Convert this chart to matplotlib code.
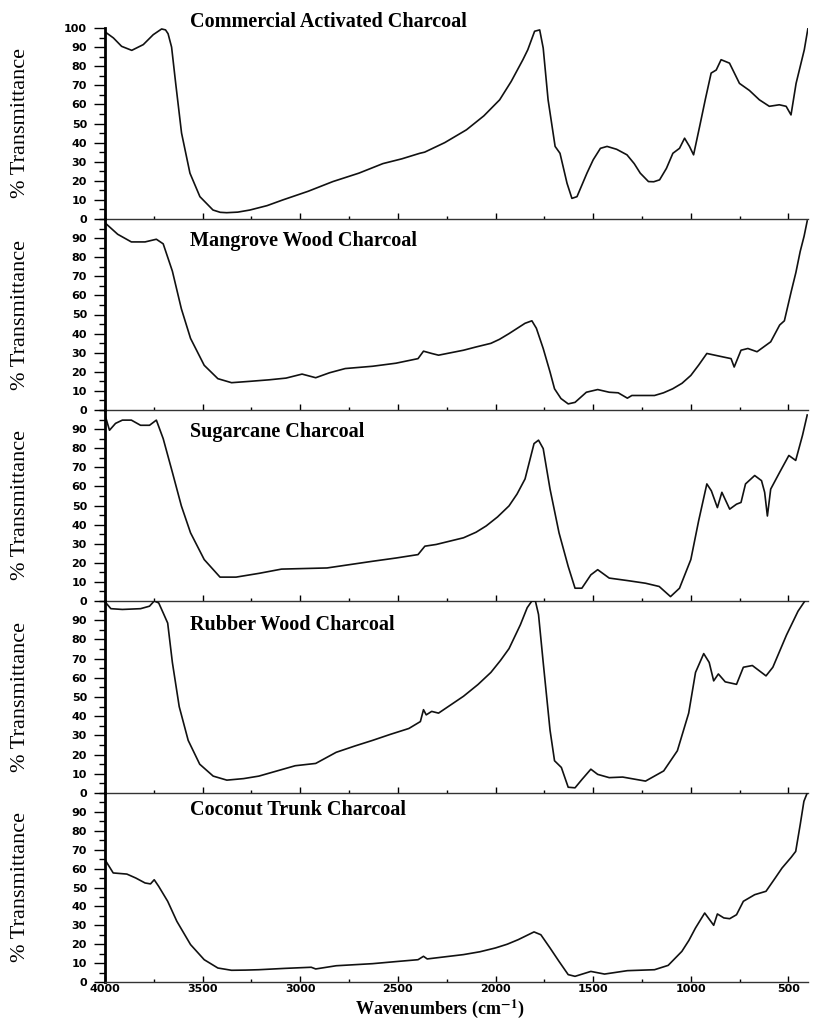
import matplotlib
matplotlib.use("Agg")
import matplotlib.pyplot as plt
from matplotlib.ticker import MultipleLocator

plt.rcParams["mathtext.fontset"] = "stix"

# ---- data (wavenumber cm-1, % transmittance) ----
commercial_wn = [4000, 3957, 3915, 3863, 3804, 3753, 3710, 3690, 3677, 3659, 3638, 3608, 3565, 3514,
                 3447, 3410, 3377, 3320, 3258, 3170, 3089, 2960, 2833, 2700, 2577, 2480, 2388, 2363,
                 2260, 2149, 2060, 1979, 1920, 1860, 1835, 1800, 1774,
                 1756, 1731, 1695, 1670, 1634, 1609, 1583, 1532, 1500, 1463, 1429, 1380, 1327, 1290,
                 1259, 1217, 1190, 1160, 1125,
                 1092, 1058, 1032, 1007, 986, 955, 925, 896, 870, 845, 802, 751, 700, 649, 598, 547, 512,
                 487, 461, 419, 400]
commercial_t = [98, 94.8, 90.4, 88.3, 91.3, 96.5, 99.5, 99, 97, 90, 71, 45, 24, 11.7,
                4.7, 3.5, 3.3, 3.6, 4.7, 7, 10, 14.5, 19.6, 24, 29, 31.5, 34.4, 35,
                40, 46.7, 54, 62.4, 72, 83.4, 88.6, 98.3, 99,
                89.5, 62.4, 38, 34.4, 18.7, 10.8, 11.7, 24, 31, 37, 38, 36.5, 33.6, 29,
                24, 19.6, 19.5, 20.5, 26.5,
                34.4, 37, 42.3, 38, 33.6, 48.4, 63, 76.4, 78, 83.4, 81.6, 71, 67.3, 62.4, 59, 59.8, 59,
                54.5, 71, 88.6, 100]

mangrove_wn = [4000, 3935, 3865, 3795, 3737, 3702, 3655, 3609, 3562, 3492, 3422, 3352, 3259, 3160, 3073,
               2991, 2921, 2850, 2770, 2630, 2510, 2397, 2369, 2327, 2292, 2164, 2100, 2024, 1980, 1931,
               1849, 1814, 1791,
               1756, 1721, 1698, 1665, 1628, 1593, 1535, 1477, 1418, 1372, 1325, 1302, 1186, 1140, 1093,
               1045, 1000, 960,
               918, 836, 794, 778, 743, 708, 661, 591, 545, 521, 486, 462, 440, 420, 404]
mangrove_t = [98, 92, 88, 88, 89.4, 87, 72.7, 53, 37.5, 23.4, 16.4, 14.3, 15, 15.8, 16.7,
              18.8, 16.9, 19.5, 21.7, 22.9, 24.5, 26.9, 30.8, 29.6, 28.7, 31.3, 33, 34.9, 37, 40,
              45.4, 46.7, 42.8,
              32.2, 19.9, 11.1, 6, 3.2, 4, 9.3, 10.7, 9.3, 9, 6.2, 7.6, 7.6, 9, 11.1,
              14, 18.1, 23.5,
              29.6, 27.8, 26.9, 22.5, 31.3, 32.2, 30.5, 35.7, 44.5, 46.7, 62, 72, 83, 91, 99]

sugarcane_wn = [4000, 3977, 3946, 3911, 3865, 3818, 3772, 3737, 3702, 3655, 3609, 3562, 3492, 3411,
                3329, 3210, 3096, 2980, 2863, 2750, 2630, 2510, 2397, 2362, 2304, 2164, 2100, 2048,
                1990, 1931, 1890, 1849, 1803, 1780, 1756,
                1721, 1675, 1628, 1593, 1558, 1512, 1477, 1418, 1325, 1232, 1162, 1104, 1058, 1000, 960,
                918, 895, 864, 841, 801, 766, 743, 720, 673, 638, 622, 608, 591, 545, 498, 463, 428, 404]
sugarcane_t = [97.4, 89.4, 93, 94.7, 94.7, 92, 92, 94.7, 85, 67.4, 49.8, 35.7, 21.7, 12.5,
               12.5, 14.5, 16.7, 17, 17.3, 19, 20.8, 22.5, 24.3, 28.7, 29.6, 33.1, 36, 39.3,
               44, 49.8, 56, 63.9, 82.4, 84.2, 79.8,
               58.6, 35.7, 18.1, 6.7, 6.7, 13.7, 16.4, 12, 10.7, 9.3, 7.6, 2.3, 6.7, 21.7, 42,
               61.3, 57.7, 48.9, 56.9, 48.1, 50.7, 51.6, 61.3, 65.7, 63, 56.9, 44.5, 58.6, 67.4, 76.2,
               73.6, 86.8, 97.4]

rubber_wn = [4000, 3970, 3911, 3818, 3772, 3748, 3725, 3702, 3679, 3655, 3620, 3574, 3515, 3446,
             3376, 3290, 3212, 3026, 2921, 2816, 2720, 2630, 2540, 2444, 2385, 2369, 2355, 2327, 2292,
             2164, 2090, 2024, 1975,
             1931, 1873, 1838, 1814, 1796, 1780, 1756, 1721, 1698, 1663, 1628, 1593, 1558, 1512,
             1477, 1418, 1349, 1232, 1139, 1069, 1011, 976, 934, 906, 883, 859, 824, 766, 731,
             685, 615, 580, 510, 451, 416]
rubber_t = [99.6, 96, 95.6, 96, 97.3, 100, 99, 93.8, 88.5, 68, 45, 27.4, 15, 8.8,
            6.7, 7.5, 8.8, 14.2, 15.4, 21.2, 24.5, 27.4, 30.5, 33.6, 37.2, 43.4, 40.7, 42.5, 41.6,
            50.4, 56.5, 62.8, 69,
            75.2, 87.6, 96.5, 100, 100, 93, 68, 32.7, 16.8, 13.3, 3, 2.7, 7, 12.4,
            9.7, 8, 8.3, 6.2, 11.5, 22, 41.6, 62.8, 72.6, 68, 58.4, 62, 57.9, 56.6, 65.5,
            66.4, 61, 65.5, 82.3, 94.7, 100]

coconut_wn = [4000, 3958, 3888, 3842, 3795, 3767, 3748, 3725, 3679, 3632, 3562, 3492, 3422, 3352,
              3280, 3212, 3080, 2944, 2921, 2816, 2630, 2510, 2397, 2369, 2350, 2164, 2080, 2001,
              1940, 1884, 1803, 1768, 1721,
              1675, 1628, 1593, 1512, 1442, 1325, 1186, 1116, 1046, 1010, 976, 929, 883, 864, 831, 801,
              766, 731, 673, 615, 568, 533, 486, 463, 440, 421, 404]
coconut_t = [64.7, 57.7, 57.1, 55, 52.4, 51.9, 54.1, 50.6, 42.7, 32.1, 19.8, 11.8, 7.4, 6.2,
             6.3, 6.5, 7.2, 7.8, 6.9, 8.6, 9.7, 10.8, 11.8, 13.6, 12.2, 14.5, 16, 18,
             20, 22.4, 26.5, 25, 18,
             10.9, 3.9, 3, 5.6, 4.2, 6, 6.5, 8.8, 16.2, 22, 28.6, 36.5, 30, 36, 33.9, 33.5,
             35.6, 42.7, 46.2, 48, 55, 60.3, 66, 69.1, 83.2, 95.6, 100]

titles = ["Commercial Activated Charcoal", "Mangrove Wood Charcoal", "Sugarcane Charcoal",
          "Rubber Wood Charcoal", "Coconut Trunk Charcoal"]
series = [(commercial_wn, commercial_t), (mangrove_wn, mangrove_t), (sugarcane_wn, sugarcane_t),
          (rubber_wn, rubber_t), (coconut_wn, coconut_t)]
x_ticks = [4000, 3500, 3000, 2500, 2000, 1500, 1000, 500]

# ---- layout (pixel based, figure 814 x 1019) ----
W, H = 814, 1019
fig = plt.figure(figsize=(W / 100, H / 100), dpi=100)
left_px, right_px = 105, 808
edges_px = [28, 219, 410, 601, 793, 982]
title_y = [1.03, 0.885, 0.885, 0.875, 0.91]

serif = ["Liberation Serif", "DejaVu Serif"]

for i, ((wn, t), title) in enumerate(zip(series, titles)):
    top, bot = edges_px[i], edges_px[i + 1]
    ax = fig.add_axes([left_px / W, 1 - bot / H, (right_px - left_px) / W, (bot - top) / H])
    ax.patch.set_alpha(0)
    ax.plot(wn, t, color="#111111", lw=1.2, solid_joinstyle="round")
    ax.set_xlim(4000, 400)
    ax.set_ylim(0, 100)

    for s in ("top", "right"):
        ax.spines[s].set_visible(False)
    ax.spines["left"].set_linewidth(2.0)
    ax.spines["bottom"].set_linewidth(1.0)
    ax.spines["bottom"].set_color("#333333")

    ax.set_yticks(list(range(0, 101 if i == 0 else 91, 10)))
    ax.yaxis.set_minor_locator(MultipleLocator(5))
    ax.tick_params(axis="y", which="major", direction="out", length=8, width=1, pad=5,
                   labelsize=8)
    ax.tick_params(axis="y", which="minor", direction="out", length=4, width=1)

    ax.set_xticks(x_ticks)
    ax.xaxis.set_minor_locator(MultipleLocator(250))
    ax.tick_params(axis="x", which="major", direction="in", length=4, width=1, pad=1.5,
                   labelsize=8, labelbottom=(i == 4))
    ax.tick_params(axis="x", which="minor", direction="in", length=2, width=1)
    for lab in ax.get_xticklabels() + ax.get_yticklabels():
        lab.set_fontweight("bold")
        lab.set_family("DejaVu Sans")

    ax.text(0.121, title_y[i], title, transform=ax.transAxes, ha="left", va="center",
            fontsize=14.5, fontweight="bold", family=serif)

    fig.text(21 / W, 1 - (top + bot) / 2 / H, "% Transmittance", rotation=90,
             ha="center", va="center", fontsize=16, family=serif)

fig.text(440 / W, 1 - 1014 / H, r"Wavenumbers (cm$^{\mathbf{-1}}$)", ha="center", va="baseline",
         fontsize=13, fontweight="bold", family=serif)

fig.savefig("out.png", dpi=100)
